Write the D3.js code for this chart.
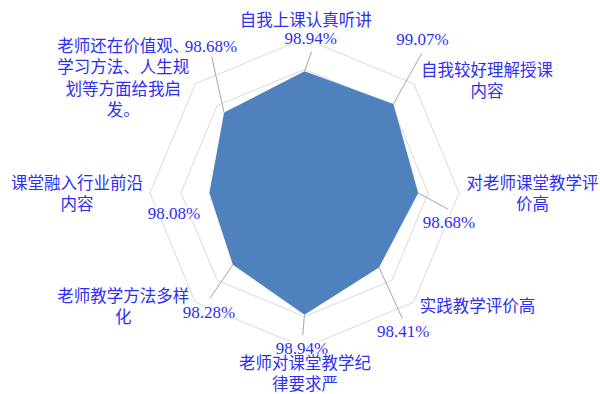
<!DOCTYPE html>
<html>
<head>
<meta charset="utf-8">
<script src="https://cdn.jsdelivr.net/npm/d3@7/dist/d3.min.js"></script>
<style>
  html, body { margin: 0; padding: 0; background: #ffffff; }
  svg { display: block; }
</style>
</head>
<body>
<svg id="chart" width="600" height="394"></svg>
<script>
// Survey items (clockwise from the top) and their agreement rates (%)
const categories = [
  "自我上课认真听讲",
  "自我较好理解授课内容",
  "对老师课堂教学评价高",
  "实践教学评价高",
  "老师对课堂教学纪律要求严",
  "老师教学方法多样化",
  "课堂融入行业前沿内容",
  "老师还在价值观、学习方法、人生规划等方面给我启发。"
];
const values = [98.94, 99.07, 98.68, 98.41, 98.94, 98.28, 98.08, 98.68];
const radialTicks = [96, 97, 98, 99, 100];
const radialDomain = [95, 100];

// Label placement: wrapped category lines, label anchors and leader ends
const labelLayout = [
  { lines: ["自我上课认真听讲"], cat: [305.8, 26], val: [310.8, 43.5], lead: [311.7, 51.5] },
  { lines: ["自我较好理解授课", "内容"], cat: [487, 75.5], val: [422.5, 45], lead: [421.7, 53.3] },
  { lines: ["对老师课堂教学评", "价高"], cat: [532.5, 189], val: [449, 227.5], lead: [448.3, 209.3] },
  { lines: ["实践教学评价高"], cat: [477.5, 312], val: [403.3, 337], lead: [402.3, 318.3] },
  { lines: ["老师对课堂教学纪", "律要求严"], cat: [305, 369], val: [302, 353.5], lead: [302.7, 335] },
  { lines: ["老师教学方法多样", "化"], cat: [123.3, 302], val: [209, 317.5], lead: [210, 298.3] },
  { lines: ["课堂融入行业前沿", "内容"], cat: [77, 189], val: [174, 218.5], lead: null },
  { lines: ["老师还在价值观、", "学习方法、人生规", "划等方面给我启", "发。"], cat: [123.3, 52], val: [211, 52], lead: [211.7, 56.7] }
];

const cx = 304.5, cy = 193, R = 154.5;
const fontSize = 16.5, lineGap = 21.3;
const textColor = "#2f2ff0";
const serifFont = "'Liberation Serif', 'Times New Roman', serif";
const cjkFont = "'Noto Sans CJK SC', sans-serif";

const svg = d3.select("#chart");
const g = svg.append("g").attr("transform", `translate(${cx},${cy})`);

const r = d3.scaleLinear().domain(radialDomain).range([0, R]);
const angle = d3.scaleLinear().domain([0, categories.length]).range([0, 2 * Math.PI]);

const point = (i, v) => {
  const a = angle(i);
  return [r(v) * Math.sin(a), -r(v) * Math.cos(a)];
};

const idx = d3.range(categories.length);
const ringLine = d3.line().curve(d3.curveLinearClosed);

// Gridline octagons
g.append("g").selectAll("path")
  .data(radialTicks)
  .join("path")
  .attr("d", t => ringLine(idx.map(i => point(i, t))))
  .attr("fill", "none")
  .attr("stroke", "#d9d9d9")
  .attr("stroke-width", 1);

// Data polygon
g.append("path")
  .attr("d", ringLine(idx.map(i => point(i, values[i]))))
  .attr("fill", "#4f81bd")
  .attr("stroke", "none");

// Leader lines from each vertex to its label
g.append("g").selectAll("line")
  .data(idx.filter(i => labelLayout[i].lead))
  .join("line")
  .attr("x1", i => point(i, values[i])[0])
  .attr("y1", i => point(i, values[i])[1])
  .attr("x2", i => labelLayout[i].lead[0] - cx)
  .attr("y2", i => labelLayout[i].lead[1] - cy)
  .attr("stroke", "#a6a6a6")
  .attr("stroke-width", 1);

const labels = svg.append("g")
  .attr("fill", textColor)
  .attr("text-anchor", "middle");

// Value labels with a white backing
labels.selectAll("g.val")
  .data(idx)
  .join("g")
  .attr("class", "val")
  .each(function (i) {
    const gg = d3.select(this);
    const t = gg.append("text")
      .attr("x", labelLayout[i].val[0])
      .attr("y", labelLayout[i].val[1])
      .style("font-family", serifFont)
      .style("font-size", "17px")
      .text(values[i].toFixed(2) + "%");
    const b = t.node().getBBox();
    gg.insert("rect", "text")
      .attr("x", b.x).attr("y", b.y + 3)
      .attr("width", b.width).attr("height", b.height - 6)
      .attr("fill", "#ffffff");
  });

// Category labels
labels.selectAll("text.cat")
  .data(idx)
  .join("text")
  .attr("class", "cat")
  .style("font-family", cjkFont)
  .style("font-size", fontSize + "px")
  .attr("x", i => labelLayout[i].cat[0])
  .attr("y", i => labelLayout[i].cat[1])
  .selectAll("tspan")
  .data(i => labelLayout[i].lines.map((s, k) => ({ s, k, i })))
  .join("tspan")
  .attr("x", d => labelLayout[d.i].cat[0])
  .attr("y", d => labelLayout[d.i].cat[1] + d.k * lineGap)
  .text(d => d.s);
</script>
</body>
</html>
